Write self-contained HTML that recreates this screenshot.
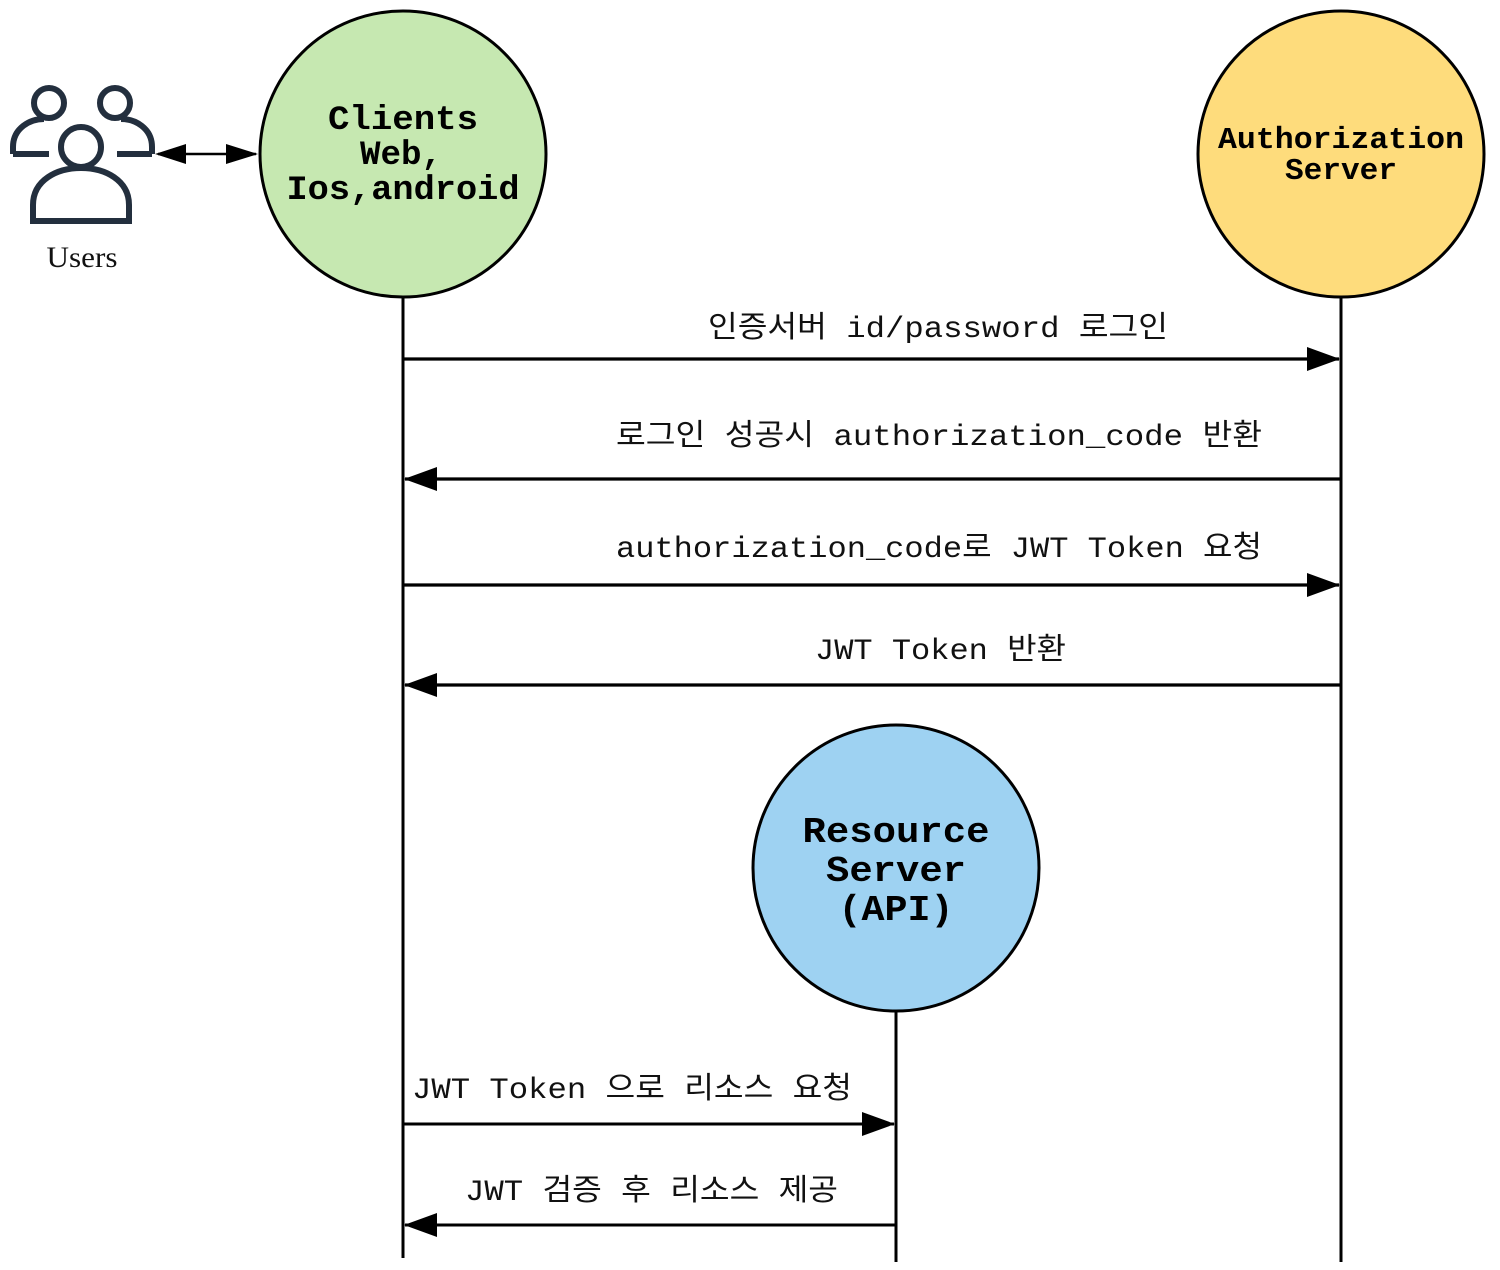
<!DOCTYPE html>
<html><head><meta charset="utf-8">
<style>
html,body{margin:0;padding:0;background:#fff;}
svg{display:block;}
.lbl{font-family:"Liberation Mono","Noto Sans CJK KR","NanumGothic",monospace;font-size:30px;fill:#111;}
.nd{font-family:"Liberation Mono",monospace;font-weight:bold;fill:#000;text-anchor:middle;}
</style></head>
<body>
<svg width="1500" height="1270" viewBox="0 0 1500 1270" xmlns="http://www.w3.org/2000/svg">
<defs>
<marker id="ah" markerWidth="34" markerHeight="24" refX="32" refY="12" orient="auto" markerUnits="userSpaceOnUse">
<path d="M0,0 L33,12 L0,24 Z" fill="#000"/>
</marker>
</defs>
<line x1="403" y1="297" x2="403" y2="1258" stroke="#000" stroke-width="3"/>
<line x1="1341" y1="297" x2="1341" y2="1262" stroke="#000" stroke-width="3"/>
<line x1="896" y1="1011" x2="896" y2="1262" stroke="#000" stroke-width="3"/>
<circle cx="403" cy="154" r="143" fill="#c6e8b1" stroke="#000" stroke-width="3"/>
<circle cx="1341" cy="154" r="143" fill="#fedc7c" stroke="#000" stroke-width="3"/>
<circle cx="896" cy="868" r="143" fill="#9ed2f2" stroke="#000" stroke-width="3"/>
<text class="nd" x="403" y="129" font-size="34" textLength="150" lengthAdjust="spacingAndGlyphs">Clients</text>
<text class="nd" x="401" y="164" font-size="34" textLength="82" lengthAdjust="spacingAndGlyphs">Web,</text>
<text class="nd" x="403" y="199" font-size="34" textLength="233" lengthAdjust="spacingAndGlyphs">Ios,android</text>
<text class="nd" x="1341" y="148" font-size="31" textLength="246" lengthAdjust="spacingAndGlyphs">Authorization</text>
<text class="nd" x="1341" y="179" font-size="31" textLength="112" lengthAdjust="spacingAndGlyphs">Server</text>
<text class="nd" x="896" y="842" font-size="36" textLength="187" lengthAdjust="spacingAndGlyphs">Resource</text>
<text class="nd" x="896" y="881" font-size="36" textLength="140" lengthAdjust="spacingAndGlyphs">Server</text>
<text class="nd" x="896" y="920" font-size="36" textLength="115" lengthAdjust="spacingAndGlyphs">(API)</text>
<g fill="none" stroke="#232f3e" stroke-width="6">
<circle cx="49" cy="103" r="15"/>
<circle cx="115" cy="103" r="15"/>
<path d="M13,154 L13,147 C13,128 30,119 44,119"/>
<path d="M49,154 L13,154"/>
<path d="M152,154 L152,147 C152,128 135,119 121,119"/>
<path d="M117,154 L152,154"/>
<circle cx="81" cy="147" r="20"/>
<path d="M33,221 L33,205 C33,180 57,168 81,168 C105,168 129,180 129,205 L129,221 Z" fill="#fff"/>
</g>
<text x="82" y="267" font-family="Liberation Serif,serif" font-size="30" fill="#111" text-anchor="middle" textLength="71" lengthAdjust="spacingAndGlyphs">Users</text>
<line x1="158" y1="154" x2="256" y2="154" stroke="#000" stroke-width="2.5"/>
<path d="M155,154 L186,144 L186,164 Z" fill="#000"/>
<path d="M258,154 L226,144 L226,164 Z" fill="#000"/>
<line x1="403" y1="359" x2="1339" y2="359" stroke="#000" stroke-width="3.2" marker-end="url(#ah)"/>
<line x1="1341" y1="479" x2="405" y2="479" stroke="#000" stroke-width="3.2" marker-end="url(#ah)"/>
<line x1="403" y1="585" x2="1339" y2="585" stroke="#000" stroke-width="3.2" marker-end="url(#ah)"/>
<line x1="1341" y1="685" x2="405" y2="685" stroke="#000" stroke-width="3.2" marker-end="url(#ah)"/>
<line x1="403" y1="1124" x2="894" y2="1124" stroke="#000" stroke-width="3" marker-end="url(#ah)"/>
<line x1="896" y1="1225" x2="405" y2="1225" stroke="#000" stroke-width="3" marker-end="url(#ah)"/>
<text class="lbl" x="708" y="337" textLength="460" lengthAdjust="spacingAndGlyphs">인증서버 id/password 로그인</text>
<text class="lbl" x="616" y="445" textLength="646" lengthAdjust="spacingAndGlyphs">로그인 성공시 authorization_code 반환</text>
<text class="lbl" x="616" y="557" textLength="646" lengthAdjust="spacingAndGlyphs">authorization_code로 JWT Token 요청</text>
<text class="lbl" x="815" y="659" textLength="251" lengthAdjust="spacingAndGlyphs">JWT Token 반환</text>
<text class="lbl" x="412" y="1098" textLength="440" lengthAdjust="spacingAndGlyphs">JWT Token 으로 리소스 요청</text>
<text class="lbl" x="465" y="1200" textLength="373" lengthAdjust="spacingAndGlyphs">JWT 검증 후 리소스 제공</text>
</svg>
</body></html>
